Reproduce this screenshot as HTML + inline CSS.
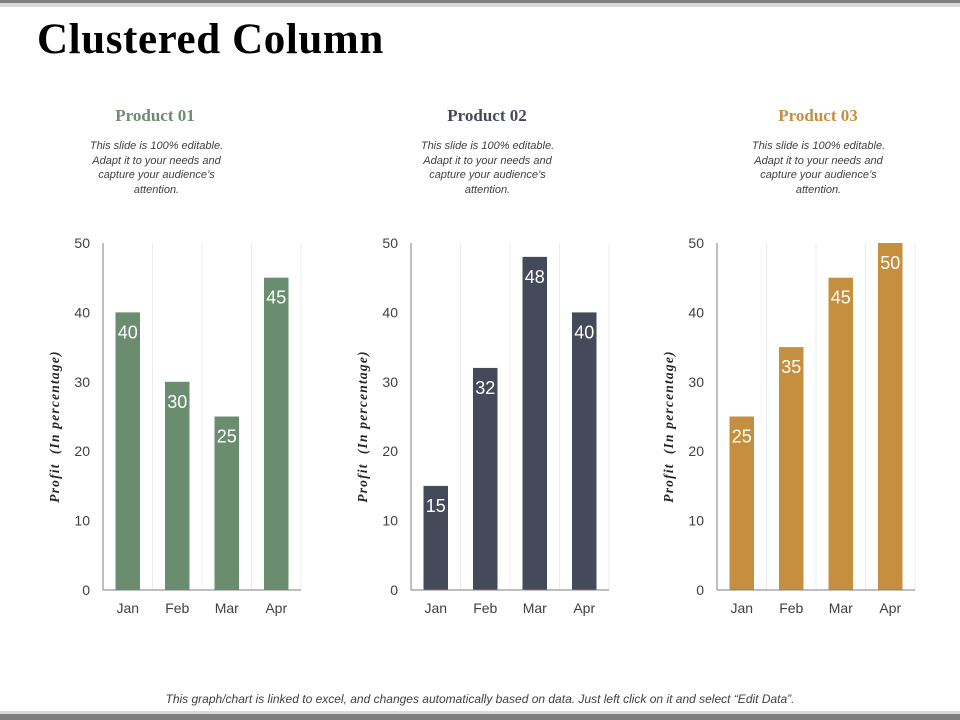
<!DOCTYPE html>
<html><head><meta charset="utf-8"><style>
body{margin:0;width:960px;height:720px;background:#fff;position:relative;overflow:hidden;font-family:"Liberation Sans",sans-serif}
.bar-top{position:absolute;left:0;top:0;width:960px;height:3px;background:#808080}
.bar-top2{position:absolute;left:0;top:3px;width:960px;height:4px;background:#d9d9d9}
.bar-b1{position:absolute;left:0;top:711px;width:960px;height:3px;background:#d9d9d9}
.bar-b2{position:absolute;left:0;top:714px;width:960px;height:6px;background:#808080}
h1{position:absolute;left:37px;top:15px;margin:0;font-family:"Liberation Serif",serif;font-weight:bold;font-size:43px;letter-spacing:0.6px;color:#000}
.ptitle{position:absolute;width:220px;text-align:center;font-family:"Liberation Serif",serif;font-weight:bold;font-size:17px;top:106px}
.pdesc{position:absolute;width:155px;text-align:center;font-style:italic;font-size:11px;line-height:14.5px;color:#404040;top:139px}
.foot{position:absolute;left:0;width:960px;text-align:center;top:692px;font-style:italic;font-size:12px;color:#404040}
svg{position:absolute;left:0;top:0}
</style></head><body>
<div class="bar-top"></div>
<div class="bar-top2"></div>
<h1>Clustered Column</h1>
<div class="ptitle" style="left:45px;color:#6a8c6f">Product 01</div>
<div class="ptitle" style="left:377px;color:#454a5a">Product 02</div>
<div class="ptitle" style="left:708px;color:#c58f3f">Product 03</div>
<div class="pdesc" style="left:79px">This slide is 100% editable. Adapt it to your needs and capture your audience’s attention.</div>
<div class="pdesc" style="left:410px">This slide is 100% editable. Adapt it to your needs and capture your audience’s attention.</div>
<div class="pdesc" style="left:741px">This slide is 100% editable. Adapt it to your needs and capture your audience’s attention.</div>
<svg id="charts" width="960" height="720"></svg>
<div class="foot">This graph/chart is linked to excel, and changes automatically based on data. Just left click on it and select “Edit Data”.</div>
<div class="bar-b1"></div>
<div class="bar-b2"></div>
<script>
const categories=["Jan","Feb","Mar","Apr"];
const product1=[40,30,25,45];
const product2=[15,32,48,40];
const product3=[25,35,45,50];
const yTicks=[0,10,20,30,40,50];
const NS="http://www.w3.org/2000/svg";
const svg=document.getElementById('charts');
function mk(t,a){const e=document.createElementNS(NS,t);for(const k in a)e.setAttribute(k,a[k]);return e;}
const charts=[{vals:product1,x0:103,color:'#6a8c6f',id:'product-01'},{vals:product2,x0:411,color:'#454a5a',id:'product-02'},{vals:product3,x0:717,color:'#c58f3f',id:'product-03'}];
const y0=590,y1=243,yMax=50,cw=49.5,bw=24.5;
charts.forEach(c=>{
  const y=v=>y0-(v/yMax)*(y0-y1);
  const xc=i=>c.x0+cw*i+cw/2;
  const g=mk('g',{});
  
  
  svg.appendChild(g);
  for(let i=1;i<=categories.length;i++){
    const l=mk('line',{x1:c.x0+cw*i,x2:c.x0+cw*i,y1:y1,y2:y0,stroke:'#ececec','stroke-width':1});
    
    
    g.appendChild(l);
  }
  yTicks.forEach(t=>{
    const tx=mk('text',{x:c.x0-13,y:y(t)+5,'text-anchor':'end','font-size':14,fill:'#404040','font-family':'Liberation Sans,sans-serif'});
    tx.textContent=t;
    
    
    g.appendChild(tx);
  });
  const ax=mk('line',{x1:c.x0,x2:c.x0,y1:y1,y2:y0,stroke:'#7f7f7f','stroke-width':1});
  
  
  g.appendChild(ax);
  c.vals.forEach((v,i)=>{
    const r=mk('rect',{x:xc(i)-bw/2,y:y(v),width:bw,height:y0-y(v),fill:c.color});
    
    
    g.appendChild(r);
    const lb=mk('text',{x:xc(i),y:y(v)+26,'text-anchor':'middle','font-size':18,fill:'#fff','font-family':'Liberation Sans,sans-serif'});
    lb.textContent=v;
    
    
    g.appendChild(lb);
    const cl=mk('text',{x:xc(i),y:y0+23,'text-anchor':'middle','font-size':14,fill:'#404040','font-family':'Liberation Sans,sans-serif'});
    cl.textContent=categories[i];
    
    
    g.appendChild(cl);
  });
  const xa=mk('line',{x1:c.x0,x2:c.x0+cw*4,y1:y0,y2:y0,stroke:'#7f7f7f','stroke-width':1});
  
  
  g.appendChild(xa);
  const yt=mk('text',{x:0,y:0,'text-anchor':'middle','font-size':13.5,'font-weight':'bold','font-style':'italic','letter-spacing':'1.2',fill:'#262626','font-family':'Liberation Serif,serif','xml:space':'preserve',transform:`translate(${c.x0-44},${(y0+y1)/2+10}) rotate(-90)`});
  yt.textContent='Profit  (In percentage)';
  yt.setAttribute('style','white-space:pre');
  
  
  g.appendChild(yt);
});
</script>
</body></html>
